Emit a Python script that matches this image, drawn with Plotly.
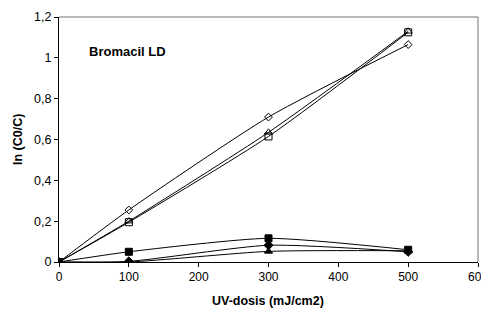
import plotly.graph_objects as go

dose = [0, 100, 300, 500]
open_diamond = [0, 0.255, 0.71, 1.065]
open_triangle = [0, 0.20, 0.635, 1.13]
open_square = [0, 0.195, 0.615, 1.125]
filled_square = [0, 0.05, 0.116, 0.06]
filled_diamond = [0, 0.003, 0.082, 0.05]
filled_triangle = [0, 0.0, 0.052, 0.055]

x_ticks = [0, 100, 200, 300, 400, 500, 600]
x_tick_labels = ["0", "100", "200", "300", "400", "500", "600"]
y_ticks = [0, 0.2, 0.4, 0.6, 0.8, 1.0, 1.2]
y_tick_labels = ["0", "0,2", "0,4", "0,6", "0,8", "1", "1,2"]

series = [
    (open_diamond, "diamond-open", 6),
    (open_triangle, "triangle-up-open", 7),
    (open_square, "square-open", 7),
    (filled_square, "square", 7),
    (filled_diamond, "diamond", 7),
    (filled_triangle, "triangle-up", 7),
]

FONT = "Liberation Sans, Arial, sans-serif"
OFF = 8  # page body margin offset
W, H = 489 - OFF, 316 - 2 * OFF
L, T = 59 - OFF, 17 - OFF
R = W - (478 - OFF)
B = H - (262 - OFF)

fig = go.Figure()
for vals, sym, size in series:
    fig.add_trace(go.Scatter(
        x=dose, y=vals, mode="lines+markers",
        line=dict(color="black", width=1, shape="spline", smoothing=0.6),
        marker=dict(symbol=sym, size=size, color="black",
                    line=dict(color="black", width=1)),
        showlegend=False,
    ))

fig.add_annotation(x=40, y=1.03, xref="x", yref="y", text="<b>Bromacil LD</b>",
                   showarrow=False, xanchor="left", yanchor="middle",
                   font=dict(family=FONT, size=13, color="black"))

pw, ph = W - L - R, H - T - B
fig.add_annotation(x=(268 - OFF - L) / pw, y=-(301 - OFF - (H - B)) / ph,
                   xref="paper", yref="paper",
                   text="<b>UV-dosis (mJ/cm2)</b>", showarrow=False,
                   xanchor="center", yanchor="middle",
                   font=dict(family=FONT, size=12.5, color="black"))
fig.add_annotation(x=-(L - (18 - OFF)) / pw, y=((H - B) - (140 - OFF)) / ph,
                   xref="paper", yref="paper",
                   text="<b>ln (C0/C)</b>", showarrow=False, textangle=-90,
                   xanchor="center", yanchor="middle",
                   font=dict(family=FONT, size=12.5, color="black"))

fig.update_layout(
    width=W, height=H,
    margin=dict(l=L, r=R, t=T, b=B, autoexpand=False),
    paper_bgcolor="white", plot_bgcolor="white",
    font=dict(family=FONT, size=13, color="black"),
    xaxis=dict(range=[0, 600], tickvals=x_ticks, ticktext=x_tick_labels,
               ticks="outside", ticklen=4,
               tickcolor="black", showline=True, linecolor="black", linewidth=1,
               mirror=False, showgrid=False, zeroline=False, automargin=False,
               tickfont=dict(size=12)),
    yaxis=dict(range=[0, 1.2], tickvals=y_ticks, ticktext=y_tick_labels,
               ticks="outside", ticklen=4, tickcolor="black", showline=True,
               linecolor="black", linewidth=1, showgrid=False, zeroline=False,
               automargin=False, tickfont=dict(size=12.5)),
    shapes=[
        dict(type="line", xref="paper", yref="paper", x0=1, x1=1, y0=0, y1=1,
             line=dict(color="#a0a0a0", width=1.5)),
        dict(type="line", xref="paper", yref="paper", x0=0, x1=1, y0=1, y1=1,
             line=dict(color="#a0a0a0", width=1.5)),
    ],
)

fig.write_html("out.html")
